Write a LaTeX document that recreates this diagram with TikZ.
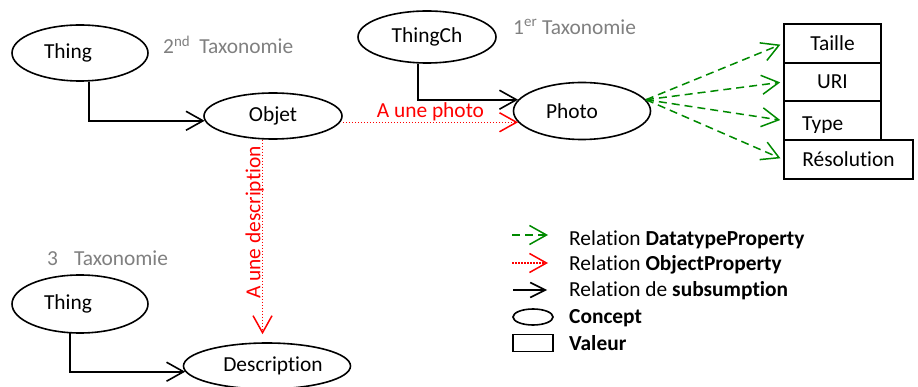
\documentclass[tikz,border=0pt]{standalone}
\usepackage{fontspec}
\setmainfont{Carlito}[Ligatures=NoCommon]
\usepackage{xcolor}
\definecolor{taxgray}{HTML}{808080}
\definecolor{propred}{HTML}{FF0000}
\definecolor{propgreen}{HTML}{008A00}
\usepackage{tikz}
\usetikzlibrary{shapes.geometric,arrows.meta,positioning}

\begin{document}
\begin{tikzpicture}[x=1pt, y=-1pt,
  every node/.style={font=\fontsize{21.4}{25}\selectfont, inner sep=0pt},
  conc/.style={draw, ellipse, line width=1.6pt},
  val/.style={draw, rectangle, line width=1.6pt, fill=white,
              minimum width=97pt, minimum height=39pt},
  tip/.style={-{Straight Barb[length=17pt, width=19pt]}},
  subs/.style={tip, line width=1.6pt},
  oprop/.style={tip, draw=propred, line width=1.5pt,
                dash pattern=on 1.5pt off 1.5pt},
  dprop/.style={tip, draw=propgreen, line width=1.5pt,
                dash pattern=on 8pt off 5pt, shorten >=3pt},
  taxo/.style={text=taxgray, anchor=west},
  leg/.style={anchor=west}
]
  \useasboundingbox (0,0) rectangle (918,387);

  % concepts
  \node[conc, minimum width=136pt, minimum height=56pt] (thingA)  at (80,53)   {Thing\kern24pt};
  \node[conc, minimum width=138pt, minimum height=46pt] (objet)   at (273,116) {Objet};
  \node[conc, minimum width=138pt, minimum height=52pt] (thingCh) at (427,37)  {ThingCh};
  \node[conc, minimum width=137pt, minimum height=57pt] (photo)   at (582,111) {Photo\kern20pt};
  \node[conc, minimum width=136pt, minimum height=58pt] (thingC)  at (80,304)  {Thing\kern24pt};
  \node[conc, minimum width=167pt, minimum height=46pt] (descr)   at (267,366) {\kern12pt Description};

  % valeurs
  \node[val] (taille) at (832.5,43.5)  {Taille};
  \node[val, minimum height=38pt] (uri) at (832.5,82) {URI};
  \node[val] (type)   at (832.5,120.5) {};
  \begin{scope}
    \clip (type.north west) rectangle ([yshift=8pt]type.south east);
    \node[anchor=base west] (typetxt) at (802,131) {Type};
  \end{scope}
  \node[val, minimum width=129pt] (resol) at (848.5,159.5) {Résolution};

  % taxonomies
  \node[taxo] (tax2) at (163,45)  {2\textsuperscript{nd}\hspace{9pt}Taxonomie};
  \node[taxo] (tax1) at (513,27)  {1\textsuperscript{er} Taxonomie};
  \node[taxo] (tax3) at (47,258)  {3\hspace{16pt}Taxonomie};

  % subsumption
  \draw[subs] (thingA.-72)   |- (objet.184);
  \draw[subs] (thingCh.-109) |- (photo.170);
  \draw[subs] (thingC.-109)  |- (descr.184);

  % object properties
  \draw[oprop] (photo.190 -| objet.east) -- (photo.190)
    node[midway, above=1pt, text=propred] (lblphoto) {A une photo};
  \draw[oprop, shorten >=8pt] (objet.-114) -- (objet.-114 |- descr.north)
    node[pos=0.41, rotate=90, anchor=south, yshift=-2pt, text=propred] (lbldescr) {A une description};

  % datatype properties
  \draw[dprop] (photo.10) -- (taille.west);
  \draw[dprop] (photo.10) -- (uri.west);
  \draw[dprop] (photo.10) -- (type.west);
  \draw[dprop] (photo.10) -- (resol.west);

  % legende
  \coordinate (lgA1) at (512,235); \coordinate (lgA2) at (548,235);
  \coordinate (lgB1) at (512,263); \coordinate (lgB2) at (548,263);
  \coordinate (lgC1) at (513,290); \coordinate (lgC2) at (547,290);
  \draw[dprop, shorten >=0pt] (lgA1) -- (lgA2);
  \draw[oprop] (lgB1) -- (lgB2);
  \draw[subs, -{Straight Barb[length=15pt, width=15pt]}] (lgC1) -- (lgC2);
  \node[conc, minimum width=40pt, minimum height=16pt] (legConc) at (533,317) {};
  \node[draw, line width=1.6pt, minimum width=40pt, minimum height=17pt] (legVal) at (533,343) {};

  \node[leg] (txtA) at (569,240) {Relation \textbf{DatatypeProperty}};
  \node[leg] (txtB) at (569,265) {Relation \textbf{ObjectProperty}};
  \node[leg] (txtC) at (569,291) {Relation de \textbf{subsumption}};
  \node[leg] (txtD) at (569,318) {\textbf{Concept}};
  \node[leg] (txtE) at (569,343) {\textbf{Valeur}};

\end{tikzpicture}
\end{document}
